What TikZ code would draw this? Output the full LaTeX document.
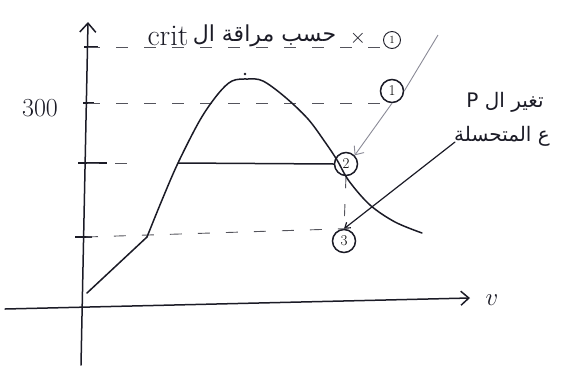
\documentclass[tikz,border=0pt]{standalone}
\usepackage{fontspec}
\usepackage{tikz}
\usetikzlibrary{arrows.meta,positioning,calc}
\newfontfamily\arabicfont[Script=Arabic]{DejaVu Sans}
\TeXXeTstate=1
\definecolor{skink}{HTML}{1B1B26}
\definecolor{skgrey}{HTML}{8A8A96}

\begin{document}
\begin{tikzpicture}[x=1pt,y=-1pt]
      \useasboundingbox (0,0) rectangle (565,365);
      \tikzset{
        pen/.style={draw=skink,line width=1.5pt,line cap=round},
        guide/.style={draw=skink!75,line width=0.9pt,dash pattern=on 12pt off 16pt},
        tickmark/.style={draw=skink,line width=2.4pt},
        faint/.style={draw=skgrey,line width=0.9pt},
        statept/.style={circle,draw=skink,line width=1.5pt,minimum size=23pt,inner sep=0pt,font=\fontsize{15}{16}\selectfont},
        hand/.style={text=skink,inner sep=0pt,font=\fontsize{22}{24}\selectfont}
      }
      % axes
      \coordinate (ybot) at (81,365);
      \coordinate (ytop) at (88,22);
      \coordinate (xleft) at (5,309);
      \coordinate (xright) at (470,298);
      \draw[pen,-{Straight Barb[length=9pt,width=16pt]}] (ybot) -- (ytop);
      \draw[pen,-{Straight Barb[length=8pt,width=14pt]}] (xleft) -- (xright);
      \node[hand,font=\fontsize{30}{32}\selectfont] (vlbl) at (492,300) {$v$};
      % levels on the y axis
      \coordinate (ltop) at (88,47);
      \coordinate (l300) at (88,103);
      \coordinate (lmid) at (87,163);
      \coordinate (llow) at (86,237);
      \draw[tickmark] ($(ltop)+(-4,0)$) -- ($(ltop)+(10,0)$);
      \draw[tickmark] ($(l300)+(-5,0)$) -- ($(l300)+(6,0)$);
      \draw[tickmark] ($(lmid)+(-9,0)$) -- ($(lmid)+(20,0)$);
      \draw[tickmark] ($(llow)+(-11,0)$) -- ($(llow)+(6,0)$);
      \node[hand,font=\fontsize{26}{28}\selectfont] (t300) at (40,108) {300};
      % state points
      \node[statept] (s1) at (392,91) {1};
      \node[statept] (s2) at (346,164) {2};
      \node[statept] (s3) at (344,241) {3};
      % dashed guides
      \draw[guide] (ltop) -- (390,47);
      \draw[guide] (l300) -- (l300 -| s1.south west);
      \draw[guide] (lmid) -- (135,163);
      \draw[guide] (llow) -- (s3.north);
      \draw[guide] (s2.south) -- (s3.north);
      % dome and process lines
      \coordinate (base) at (147,237);
      \draw[pen] (87,293) -- (base);
      \draw[pen] plot[smooth,tension=0.55] coordinates {(base) (162,200) (178,163) (200,120) (218,94) (232,81) (248,79) (263,81) (285,97) (308,119) (325,142) (337,160) (349,181) (370,205) (395,222) (422,233)};
      \fill[skink] (245,74) circle (1.3pt);
      \draw[pen] (178,163) -- (s2.west);
      % annotation arrows
      \coordinate (penstart) at (438,35);
      \coordinate (lblfoot) at (455,142);
      \draw[faint] (penstart) -- (s1.east);
      \draw[faint,-{Straight Barb[length=7pt,width=12pt]}] (s1.south) -- (s2.north east);
      \draw[pen,line width=1.2pt,-{Straight Barb[length=5pt,width=7pt]}] (lblfoot) -- (s3.north);
      % texts
      \node[hand,font=\fontsize{30}{32}\selectfont] (critlbl) at (168,36) {crit};
      \node[hand,font=\fontsize{22}{24}\selectfont\arabicfont,anchor=west] (topar) [right=4pt of critlbl] {\beginR حسب مراقة ال\endR};
      \node[hand] (cross) at (358,38) {$\times$};
      \node[statept,minimum size=17pt,line width=0.9pt,font=\fontsize{11}{12}\selectfont] (n1) at (392,40) {1};
      \node[hand,font=\fontsize{20}{22}\selectfont\arabicfont] (rtop) at (505,102) {\beginR تغير ال P\endR};
      \node[hand,font=\fontsize{20}{22}\selectfont\arabicfont] (rbot) at (502,136) {\beginR ع المتحسلة\endR};
    \end{tikzpicture}
\end{document}
